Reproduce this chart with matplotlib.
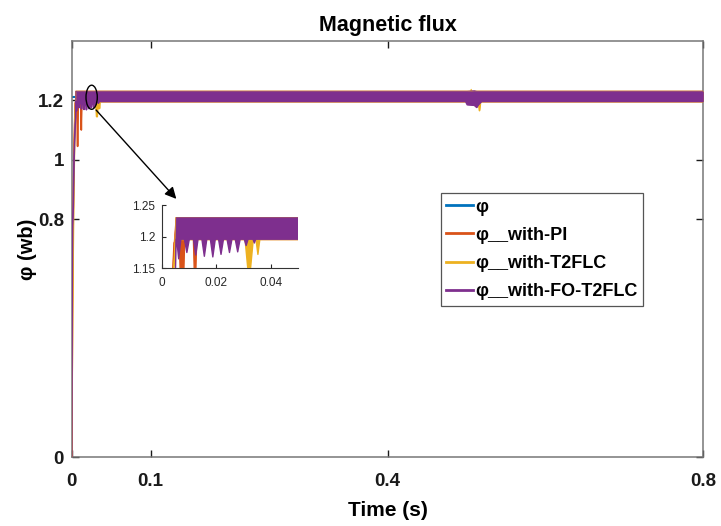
import matplotlib.pyplot as plt
from matplotlib.patches import Ellipse

plt.rcParams['font.family'] = ['Liberation Sans', 'DejaVu Sans']

# =========================
# DATA
# =========================
# reference flux
ref_t = [0, 0.8]
ref_v = [1.21, 1.21]

# with PI : start-up, then a ripple band (lower / upper envelope)
pi_t = [0, 0.001, 0.002, 0.003, 0.0045, 0.0052, 0.0064, 0.0075, 0.0084,
        0.0116, 0.0122, 0.0128, 0.8]
pi_lo = [0, 0.45, 0.80, 1.05, 1.19, 1.1955, 1.1955, 1.045, 1.1955,
         1.1955, 1.10, 1.1955, 1.1955]
pi_hi = [0, 0.45, 0.80, 1.05, 1.19, 1.2305, 1.2305, 1.2305, 1.2305,
         1.2305, 1.2305, 1.2305, 1.2305]

# with T2FLC
t2_t = [0, 0.0012, 0.0025, 0.004, 0.0052, 0.0305, 0.0316, 0.0324, 0.0335,
        0.0345, 0.0352, 0.0359, 0.505, 0.506, 0.507, 0.515, 0.5165, 0.518, 0.8]
t2_lo = [0, 0.50, 0.85, 1.12, 1.1955, 1.1955, 1.145, 1.145, 1.1955,
         1.1955, 1.172, 1.1955, 1.1955, 1.1955, 1.1955, 1.1955, 1.165, 1.1955, 1.1955]
t2_hi = [0, 0.50, 0.85, 1.12, 1.2305, 1.2305, 1.2305, 1.2305, 1.2305,
         1.2305, 1.2305, 1.2305, 1.2305, 1.237, 1.2305, 1.2305, 1.2305, 1.2305, 1.2305]

# with FO-T2FLC
fo_t = [0, 0.0006, 0.0012, 0.002, 0.003, 0.0045, 0.0050, 0.0053,
        0.0055, 0.0062, 0.0070,
        0.0083, 0.0092, 0.0101,
        0.0116, 0.01245, 0.0133,
        0.0147, 0.0156, 0.0165,
        0.0178, 0.0187, 0.0196,
        0.0208, 0.0217, 0.0226,
        0.0239, 0.0248, 0.0257,
        0.0269, 0.0278, 0.0287,
        0.0302, 0.0309, 0.0316,
        0.0334, 0.0339, 0.0344,
        0.499, 0.501, 0.510, 0.513, 0.515, 0.519, 0.8]
fo_lo = [0, 0.55, 0.78, 0.84, 1.00, 1.12, 1.14, 1.196,
         1.196, 1.165, 1.196,
         1.196, 1.175, 1.196,
         1.196, 1.171, 1.196,
         1.196, 1.169, 1.196,
         1.196, 1.168, 1.196,
         1.196, 1.172, 1.196,
         1.196, 1.175, 1.196,
         1.196, 1.176, 1.196,
         1.196, 1.186, 1.196,
         1.196, 1.190, 1.196,
         1.196, 1.185, 1.183, 1.176, 1.185, 1.196, 1.196]
fo_hi = [0, 0.55, 0.78, 0.84, 1.00, 1.12, 1.14, 1.230,
         1.230, 1.230, 1.230,
         1.230, 1.230, 1.230,
         1.230, 1.230, 1.230,
         1.230, 1.230, 1.230,
         1.230, 1.230, 1.230,
         1.230, 1.230, 1.230,
         1.230, 1.230, 1.230,
         1.230, 1.230, 1.230,
         1.230, 1.230, 1.230,
         1.230, 1.230, 1.230,
         1.230, 1.230, 1.232, 1.230, 1.230, 1.230, 1.230]

labels = ["φ", "φ__with-PI", "φ__with-T2FLC", "φ__with-FO-T2FLC"]
colors = ["#0072BD", "#D95319", "#EDB120", "#7E2F8E"]

x_ticks = [0, 0.1, 0.4, 0.8]
x_ticklabels = ["0", "0.1", "0.4", "0.8"]
y_ticks = [0, 0.8, 1, 1.2]
y_ticklabels = ["0", "0.8", "1", "1.2"]

zoom_xticks = [0, 0.02, 0.04]
zoom_xticklabels = ["0", "0.02", "0.04"]
zoom_yticks = [1.15, 1.2, 1.25]
zoom_yticklabels = ["1.15", "1.2", "1.25"]

bands = [(pi_t, pi_lo, pi_hi), (t2_t, t2_lo, t2_hi), (fo_t, fo_lo, fo_hi)]


def draw_curves(axis, lw, with_ref=True):
    handles = []
    h, = axis.plot(ref_t, ref_v, color=colors[0], lw=lw + 0.3, zorder=2,
                   visible=with_ref)
    handles.append(h)
    z = 3
    for (t, lo, hi), c in zip(bands, colors[1:]):
        axis.fill_between(t, lo, hi, color=c, lw=0, zorder=z)
        h, = axis.plot(t, lo, color=c, lw=lw, zorder=z)
        axis.plot(t, hi, color=c, lw=lw * 0.5, zorder=z)
        handles.append(h)
        z += 1
    return handles


# =========================
# MAIN AXES
# =========================
fig = plt.figure(figsize=(7.21, 5.26), dpi=100)
ax = fig.add_axes([0.0994, 0.1306, 0.8761, 0.7920])

handles = draw_curves(ax, 1.2)

ax.set_xlim(0, 0.8)
ax.set_ylim(0, 1.4)
ax.set_xticks(x_ticks)
ax.set_xticklabels(x_ticklabels, fontweight="bold")
ax.set_yticks(y_ticks)
ax.set_yticklabels(y_ticklabels, fontweight="bold")
ax.tick_params(direction="in", top=True, right=True, length=5, width=1,
               labelsize=13.5, colors="#1a1a1a")
ax.tick_params(axis="x", pad=11)
ax.tick_params(axis="y", pad=5.5)
for s in ax.spines.values():
    s.set_color("#777777")
    s.set_linewidth(1.1)

ax.set_title("Magnetic flux", fontsize=15.5, fontweight="bold", pad=7)
ax.set_xlabel("Time (s)", fontsize=15, fontweight="bold", labelpad=8)
ax.set_ylabel("φ (wb)", fontsize=14.5, fontweight="bold", labelpad=1)

# zoom marker + arrow
ax.add_patch(Ellipse((0.0253, 1.21), 0.0143, 0.081, fill=False, ec="black",
                     lw=1, zorder=10))
ax.annotate("", xy=(0.1349, 0.8615), xytext=(0.0286, 1.174), zorder=10,
            arrowprops=dict(arrowstyle="-|>", color="black", lw=1, mutation_scale=17))

leg = ax.legend(handles, labels, loc="upper right", bbox_to_anchor=(0.9045, 0.634),
                borderaxespad=0, fancybox=False, framealpha=1, edgecolor="#555555",
                prop=dict(weight="bold", size=13), handlelength=1.5,
                handletextpad=0.1, labelspacing=0.62, borderpad=0.3)
leg.get_frame().set_linewidth(0.9)
leg.set_zorder(20)
for ln in leg.get_lines():
    ln.set_linewidth(2)
    ln.set_visible(True)

# =========================
# INSET
# =========================
axin = fig.add_axes([0.2243, 0.4899, 0.1895, 0.1203])
draw_curves(axin, 1.0, with_ref=False)
axin.set_xlim(0, 0.05)
axin.set_ylim(1.15, 1.25)
axin.set_xticks(zoom_xticks)
axin.set_xticklabels(zoom_xticklabels)
axin.set_yticks(zoom_yticks)
axin.set_yticklabels(zoom_yticklabels)
axin.tick_params(direction="in", length=3, width=0.8, labelsize=8.5, colors="#262626")
axin.tick_params(axis="x", pad=6)
axin.tick_params(axis="y", pad=4.5)
axin.spines["top"].set_visible(False)
axin.spines["right"].set_visible(False)
for s in ["left", "bottom"]:
    axin.spines[s].set_color("#333333")
    axin.spines[s].set_linewidth(0.8)

fig.savefig("out.png", dpi=100)
